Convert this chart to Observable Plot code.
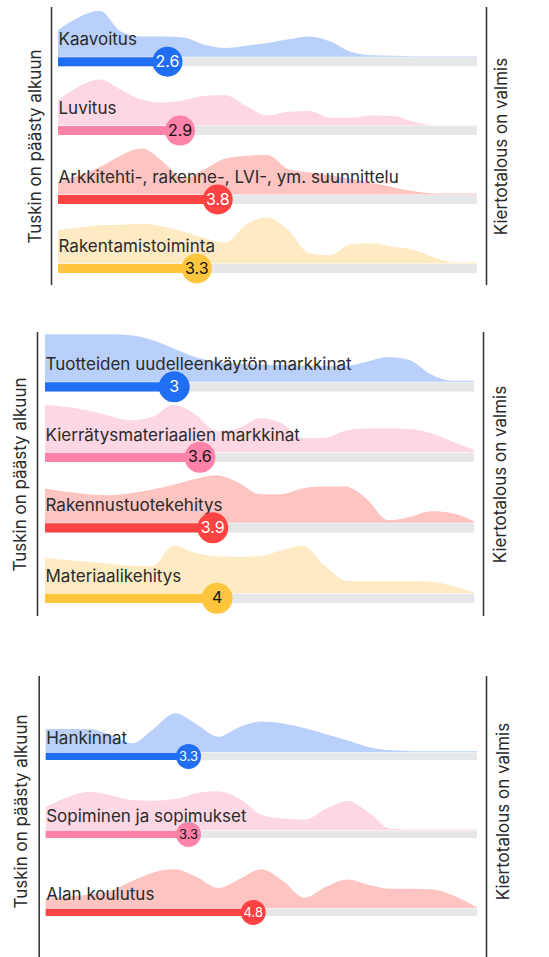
<!DOCTYPE html>
<html>
<head>
<meta charset="utf-8">
<script src="https://cdn.jsdelivr.net/npm/d3@7"></script>
<script src="https://cdn.jsdelivr.net/npm/@observablehq/plot@0.6"></script>
<style>
  html, body { margin: 0; padding: 0; background: #fff; }
  body { width: 549px; overflow: hidden; font-family: Inter, "Noto Sans", sans-serif; }
  svg { display: block; }
</style>
</head>
<body>
<div id="chart"></div>
<script>
// ---------- DATA ----------
// Sample positions of the answer-distribution curves on the 0–10 scale
const grid = [0, 0.5, 1, 1.5, 2, 2.5, 3, 3.5, 4, 4.5, 5, 5.5, 6, 6.5, 7, 7.5, 8, 8.5, 9, 9.5, 10];

const leftLabel = "Tuskin on päästy alkuun";
const rightLabel = "Kiertotalous on valmis";

// Panel 1
const cats1 = ["Kaavoitus", "Luvitus", "Arkkitehti-, rakenne-, LVI-, ym. suunnittelu", "Rakentamistoiminta"];
const vals1 = [2.6, 2.9, 3.8, 3.3];
const densKaavoitus = [0.58, 0.86, 1.0, 0.55, 0.44, 0.44, 0.42, 0.26, 0.19, 0.24, 0.30, 0.38, 0.44, 0.33, 0.10, 0.03, 0.02, 0.01, 0.01, 0.01, 0.01];
const densLuvitus = [0.55, 0.85, 1.0, 0.78, 0.56, 0.50, 0.55, 0.65, 0.66, 0.42, 0.22, 0.30, 0.32, 0.17, 0.17, 0.22, 0.21, 0.08, 0.01, 0.01, 0.01];
const densArkkitehti = [0.27, 0.42, 0.60, 0.85, 1.0, 0.72, 0.35, 0.55, 0.78, 0.84, 0.86, 0.55, 0.48, 0.42, 0.34, 0.25, 0.16, 0.07, 0.02, 0.02, 0.02];
const densRakentaminen = [0.72, 0.78, 0.83, 0.84, 0.86, 0.80, 0.69, 0.55, 0.45, 0.85, 1.0, 0.72, 0.22, 0.18, 0.42, 0.43, 0.36, 0.29, 0.12, 0.02, 0.02];

// Panel 2
const cats2 = ["Tuotteiden uudelleenkäytön markkinat", "Kierrätysmateriaalien markkinat", "Rakennustuotekehitys", "Materiaalikehitys"];
const vals2 = [3, 3.6, 3.9, 4];
const densUudelleenkaytto = [1.0, 1.0, 1.0, 1.0, 0.98, 0.88, 0.70, 0.52, 0.42, 0.38, 0.36, 0.35, 0.34, 0.33, 0.33, 0.42, 0.52, 0.45, 0.15, 0.02, 0.02];
const densKierratys = [1.0, 0.95, 0.88, 0.77, 0.67, 0.74, 1.0, 0.80, 0.45, 0.50, 0.72, 0.62, 0.30, 0.30, 0.45, 0.50, 0.50, 0.49, 0.40, 0.22, 0.05];
const densTuotekehitys = [0.72, 0.65, 0.60, 0.58, 0.62, 0.70, 0.80, 0.92, 1.0, 0.85, 0.60, 0.60, 0.72, 0.76, 0.76, 0.50, 0.05, 0.12, 0.24, 0.20, 0.03];
const densMateriaali = [0.74, 0.70, 0.66, 0.62, 0.58, 0.57, 1.0, 0.85, 0.78, 0.77, 0.78, 0.90, 1.0, 0.60, 0.27, 0.25, 0.25, 0.25, 0.24, 0.15, 0.02];

// Panel 3
const cats3 = ["Hankinnat", "Sopiminen ja sopimukset", "Alan koulutus"];
const vals3 = [3.3, 3.3, 4.8];
const densHankinnat = [0.60, 0.60, 0.60, 0.45, 0.23, 0.60, 1.0, 0.72, 0.40, 0.65, 0.79, 0.74, 0.62, 0.46, 0.30, 0.13, 0.05, 0.03, 0.03, 0.03, 0.03];
const densSopiminen = [0.60, 0.85, 0.98, 0.90, 0.78, 0.76, 0.80, 0.95, 1.0, 0.80, 0.40, 0.30, 0.27, 0.55, 0.75, 0.45, 0.04, 0.02, 0.02, 0.02, 0.02];
const densKoulutus = [0.26, 0.30, 0.35, 0.45, 0.70, 0.92, 1.0, 0.80, 0.52, 0.75, 1.0, 0.70, 0.27, 0.55, 0.74, 0.60, 0.50, 0.50, 0.48, 0.30, 0.02];

// ---------- STYLE ----------
const palette = [
  {bar: "#1f6ef4", area: "#b9d0fa", text: "#ffffff"},
  {bar: "#ff82a8", area: "#fdd7e3", text: "#111111"},
  {bar: "#ff4242", area: "#fdc4c1", text: "#ffffff"},
  {bar: "#ffc53d", area: "#feebc3", text: "#111111"}
];
const FONT = "Inter, 'Noto Sans', sans-serif";

function panel(cfg) {
  const n = cfg.cats.length;
  const rows = cfg.cats.map((c, i) => ({cat: c, i, value: cfg.vals[i], ...palette[i]}));
  const k = cfg.peak / cfg.step;
  const dens = rows.flatMap(r => grid.map((v, j) => ({cat: r.cat, i: r.i, v, d: cfg.dens[r.i][j], area: r.area})));
  const half = cfg.barH / 2;
  return Plot.plot({
    width: 549,
    height: cfg.height,
    marginTop: cfg.mt,
    marginBottom: cfg.mb,
    marginLeft: cfg.x0,
    marginRight: 549 - cfg.x1,
    x: {domain: [0, 10], axis: null},
    y: {domain: [0, n - 1], range: [cfg.base0, cfg.base0 + cfg.step * (n - 1)], axis: null},
    color: {type: "identity"},
    style: {fontFamily: FONT, background: "transparent", overflow: "visible"},
    marks: [
      Plot.areaY(dens, {x: "v", y1: "i", y2: d => d.i - d.d * k, z: "cat", fill: "area", curve: "monotone-x"}),
      Plot.ruleY(rows, {y: "i", x1: 0, x2: 10, dy: half, stroke: "#e6e7e9", strokeWidth: cfg.barH}),
      Plot.ruleY(rows, {y: "i", x1: 0, x2: "value", dy: half, stroke: "bar", strokeWidth: cfg.barH}),
      Plot.text(rows, {x: 0, y: "i", dy: -cfg.labelGap, text: "cat", textAnchor: "start", lineAnchor: "bottom", fontSize: 17, fill: "#2a2a2a"}),
      Plot.dot(rows, {x: "value", y: "i", dy: half, r: cfg.r, fill: "bar", stroke: null}),
      Plot.text(rows, {x: "value", y: "i", dy: half, text: d => String(d.value), fill: "text", fontSize: cfg.valFont, lineAnchor: "middle"}),
      Plot.ruleX([0], {dx: cfg.lineL, stroke: "#3a3a3a", strokeWidth: 1.6}),
      Plot.ruleX([10], {dx: cfg.lineR, stroke: "#3a3a3a", strokeWidth: 1.6}),
      Plot.text([leftLabel], {frameAnchor: "left", textAnchor: "middle", lineAnchor: "middle", rotate: -90, dx: cfg.txtL, dy: cfg.txtDy, fontSize: 17, fill: "#2a2a2a"}),
      Plot.text([rightLabel], {frameAnchor: "right", textAnchor: "middle", lineAnchor: "middle", rotate: -90, dx: cfg.txtR, dy: cfg.txtDy, fontSize: 17, fill: "#2a2a2a"})
    ]
  });
}

const chart = document.getElementById("chart");
chart.append(panel({
  cats: cats1, vals: vals1, dens: [densKaavoitus, densLuvitus, densArkkitehti, densRakentaminen],
  height: 310, mt: 7, mb: 25, x0: 58, x1: 477,
  base0: 56.7, step: 68.9, peak: 46, barH: 9, r: 15, valFont: 16, labelGap: 12,
  lineL: -7, lineR: 9, txtL: -23, txtR: 24, txtDy: 0
}));
chart.append(panel({
  cats: cats2, vals: vals2, dens: [densUudelleenkaytto, densKierratys, densTuotekehitys, densMateriaali],
  height: 340, mt: 22, mb: 34, x0: 45, x1: 474,
  base0: 71.7, step: 70.5, peak: 47.5, barH: 9.3, r: 15.5, valFont: 16, labelGap: 12,
  lineL: -8, lineR: 9, txtL: -24.5, txtR: 26, txtDy: 0
}));
chart.append(panel({
  cats: cats3, vals: vals3, dens: [densHankinnat, densSopiminen, densKoulutus],
  height: 310, mt: 26, mb: 0, x0: 45.7, x1: 477,
  base0: 102.3, step: 78, peak: 39, barH: 7.3, r: 12.5, valFont: 13, labelGap: 9,
  lineL: -7, lineR: 9, txtL: -25, txtR: 26.5, txtDy: -7
}));
</script>
</body>
</html>
